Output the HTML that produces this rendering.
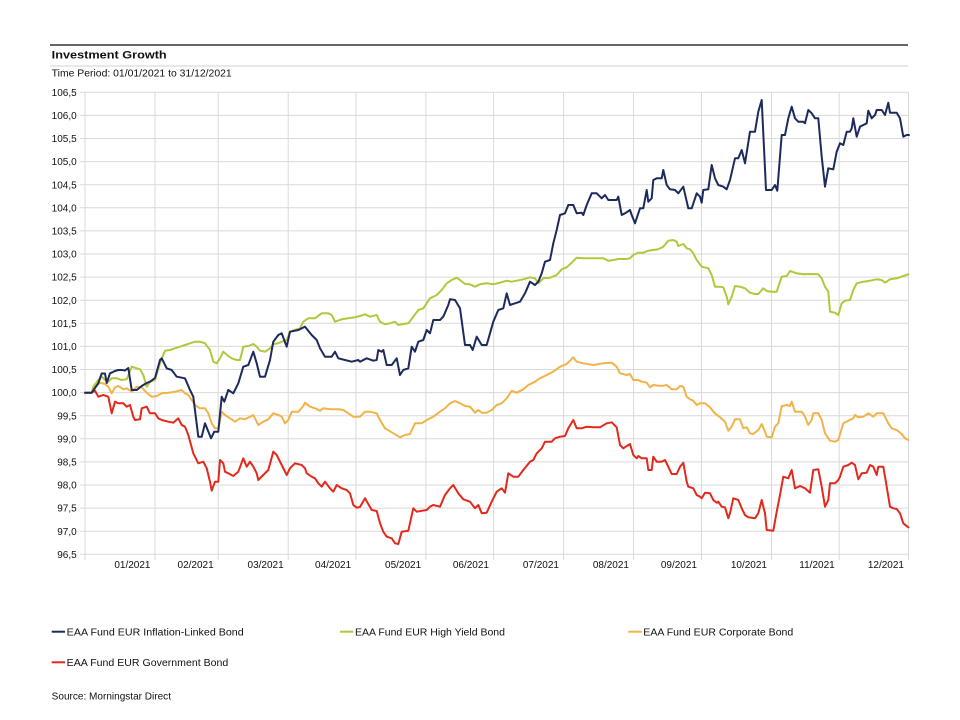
<!DOCTYPE html>
<html>
<head>
<meta charset="utf-8">
<style>
html,body{margin:0;padding:0;background:#fff;}
body{width:960px;height:720px;overflow:hidden;}
svg{display:block;}
text{font-family:"Liberation Sans","DejaVu Sans",sans-serif;fill:#111;}
</style>
</head>
<body>
<svg width="960" height="720" viewBox="0 0 960 720" xmlns="http://www.w3.org/2000/svg">
<rect x="0" y="0" width="960" height="720" fill="#fff"/>
<!-- header -->
<line x1="50" y1="45" x2="908" y2="45" stroke="#333" stroke-width="1.5"/>
<text x="51.7" y="58.3" font-size="11" font-weight="bold" textLength="115" lengthAdjust="spacingAndGlyphs">Investment Growth</text>
<line x1="50" y1="66" x2="908" y2="66" stroke="#d0d0d0" stroke-width="1"/>
<text x="51.7" y="76.5" font-size="10" textLength="180" lengthAdjust="spacingAndGlyphs">Time Period: 01/01/2021 to 31/12/2021</text>

<!-- horizontal grid -->
<g stroke="#dadada" stroke-width="1">
<line x1="80" y1="92.3" x2="908" y2="92.3"/>
<line x1="80" y1="115.4" x2="908" y2="115.4"/>
<line x1="80" y1="138.5" x2="908" y2="138.5"/>
<line x1="80" y1="161.6" x2="908" y2="161.6"/>
<line x1="80" y1="184.7" x2="908" y2="184.7"/>
<line x1="80" y1="207.8" x2="908" y2="207.8"/>
<line x1="80" y1="230.9" x2="908" y2="230.9"/>
<line x1="80" y1="254.0" x2="908" y2="254.0"/>
<line x1="80" y1="277.1" x2="908" y2="277.1"/>
<line x1="80" y1="300.2" x2="908" y2="300.2"/>
<line x1="80" y1="323.3" x2="908" y2="323.3"/>
<line x1="80" y1="346.4" x2="908" y2="346.4"/>
<line x1="80" y1="369.5" x2="908" y2="369.5"/>
<line x1="80" y1="392.6" x2="908" y2="392.6"/>
<line x1="80" y1="415.7" x2="908" y2="415.7"/>
<line x1="80" y1="438.8" x2="908" y2="438.8"/>
<line x1="80" y1="461.9" x2="908" y2="461.9"/>
<line x1="80" y1="485.0" x2="908" y2="485.0"/>
<line x1="80" y1="508.1" x2="908" y2="508.1"/>
<line x1="80" y1="531.2" x2="908" y2="531.2"/>
<line x1="80" y1="554.3" x2="908" y2="554.3"/>
</g>
<!-- vertical grid -->
<g stroke="#dadada" stroke-width="1">
<line x1="85" y1="92" x2="85" y2="560"/>
<line x1="155" y1="92" x2="155" y2="560"/>
<line x1="218.2" y1="92" x2="218.2" y2="560"/>
<line x1="288.2" y1="92" x2="288.2" y2="560"/>
<line x1="355.9" y1="92" x2="355.9" y2="560"/>
<line x1="425.9" y1="92" x2="425.9" y2="560"/>
<line x1="493.6" y1="92" x2="493.6" y2="560"/>
<line x1="563.6" y1="92" x2="563.6" y2="560"/>
<line x1="633.6" y1="92" x2="633.6" y2="560"/>
<line x1="701.5" y1="92" x2="701.5" y2="560"/>
<line x1="771.5" y1="92" x2="771.5" y2="560"/>
<line x1="839.2" y1="92" x2="839.2" y2="560"/>
<line x1="908.5" y1="92" x2="908.5" y2="560"/>
</g>

<!-- y labels -->
<g font-size="10" text-anchor="end">
<text x="76.7" y="95.9">106,5</text>
<text x="76.7" y="119.0">106,0</text>
<text x="76.7" y="142.1">105,5</text>
<text x="76.7" y="165.2">105,0</text>
<text x="76.7" y="188.3">104,5</text>
<text x="76.7" y="211.4">104,0</text>
<text x="76.7" y="234.5">103,5</text>
<text x="76.7" y="257.6">103,0</text>
<text x="76.7" y="280.7">102,5</text>
<text x="76.7" y="303.8">102,0</text>
<text x="76.7" y="326.9">101,5</text>
<text x="76.7" y="350.0">101,0</text>
<text x="76.7" y="373.1">100,5</text>
<text x="76.7" y="396.2">100,0</text>
<text x="76.7" y="419.3">99,5</text>
<text x="76.7" y="442.4">99,0</text>
<text x="76.7" y="465.5">98,5</text>
<text x="76.7" y="488.6">98,0</text>
<text x="76.7" y="511.7">97,5</text>
<text x="76.7" y="534.8">97,0</text>
<text x="76.7" y="557.9">96,5</text>
</g>
<!-- x labels -->
<g font-size="10" text-anchor="end">
<text x="150.5" y="568">01/2021</text>
<text x="213.7" y="568">02/2021</text>
<text x="283.7" y="568">03/2021</text>
<text x="351.2" y="568">04/2021</text>
<text x="421.2" y="568">05/2021</text>
<text x="489" y="568">06/2021</text>
<text x="559" y="568">07/2021</text>
<text x="629" y="568">08/2021</text>
<text x="697" y="568">09/2021</text>
<text x="767" y="568">10/2021</text>
<text x="834.7" y="568">11/2021</text>
<text x="904" y="568">12/2021</text>
</g>

<!-- series -->
<g fill="none" stroke-width="2" stroke-linejoin="round" stroke-linecap="round">
<polyline stroke="#e2291c" points="85,392.7 91.7,392.7 95,390.7 98.3,396.7 103.3,395 108.3,396.7 111.7,413.3 115,401.7 118.3,403.3 123.3,403.3 126.7,406.7 130,405 133.3,416.7 135,420 140,419.3 141.7,408.3 146.7,406.7 150,413.3 155,413.3 158.3,418.3 161.7,420 168.3,421.7 173.3,422.7 178.3,418.3 181.7,425 185,426.7 188.3,435 193.3,453.3 198.3,463.3 203.3,461.7 206.7,468.3 210,481.7 211.7,490.7 215,481.7 218.3,481.7 220,460 223.3,463.3 225,471.7 228.3,473.3 233.3,476 238.3,471.7 243.3,458.3 246.7,466.7 250,461.7 253.3,466.7 256.7,473.3 258.3,480 263.3,475 268.3,470 273.3,451.7 276.7,455 281.7,465 286.7,475 290,468.3 295,463.3 301.7,465 305,468.3 306.7,473.3 311.7,476.7 315,478.3 318.3,483.3 321.7,486.7 325,481.7 330,488.3 333.3,491.7 336.7,485 341.7,488.3 346.7,490 350,493.3 353.3,505 356.7,507.7 360,507 365,498.3 371.7,510 376.7,511 380,523.3 383.3,531.7 386.7,536.7 391.7,538.3 395,543.3 398.3,544 401.7,531.7 408.3,530.7 413.3,508.3 416.7,511.7 426.7,510 430,506.7 433.3,505 440,506.7 445,495 450,488.3 453.3,485 458.3,493.3 463.3,499.3 470,501.7 475,508.3 478.3,505 481.7,513.3 486.7,512.7 491.7,501.7 496.7,491.7 501.7,488.3 505,492.7 508.3,473.3 513.3,476.7 518.3,476.7 523.3,470 530,461.7 533.3,460 536.7,453.3 541.7,448.3 545,441.7 551.7,441.7 555,438.3 560,436.7 565,436 568.3,428.3 573.3,420 576.7,428.3 581.7,428.3 586.7,426.7 593.3,427.3 600,427.3 606.7,423.3 611.7,422.3 616.7,427.3 620,445 623.3,448.3 630,444 633.3,455 636.7,458.3 638.3,456 641.7,458.3 646.7,458.3 648.3,470 651.7,470 653.3,456.7 656.7,461.7 661.7,461.7 665,460 668.3,466.7 671.7,474 676.7,474 680,466.7 683.3,462.7 686.7,481.7 688.3,486.7 693.3,488.3 696.7,495 700,496.7 701.7,498.3 705,492.7 710,493.3 713.3,500 716.7,502.7 718.3,501.7 721.7,506.7 725,507.3 728.3,518.3 730,513.3 733.3,498.3 738.3,500 741.7,508.3 745,515 748.3,517.3 755,518.3 758.3,513.3 761.7,500 765,513.3 766.7,530 773.3,530.7 776.7,511.7 780,495 783.3,476.7 788.3,478.3 791.7,470 795,488.3 800,486 805,488.3 810,492.7 813.3,470 818.3,469.3 821.7,486.7 825,506.7 828.3,500 830,483.3 835,483.3 838.3,480 840,476.7 843.3,466.7 848.3,465 851.7,462.7 855,465 858.3,479.3 861.7,473.3 866.7,472.7 870,465 873.3,466.7 876.7,475 878.3,466.7 883.3,466.7 886.7,486.7 890,506.7 893.3,508.3 896.7,509 900,513.3 903.3,523.3 908.3,527.3"/>
<polyline stroke="#f1b349" points="85,392.7 91.7,392.7 95,386.7 100,382.7 105,384 108.3,386.7 111.7,393.3 115,387.3 118.3,386 123.3,389.3 126.7,388.3 131.7,391.7 136.7,386.7 141.7,387.3 146.7,392.7 151.7,396.7 156.7,396 161.7,393.3 168.3,392.7 175,391.7 181.7,390 185,393.3 188.3,395 191.7,400 195,405 200,408.3 205,408.3 208.3,413.3 211.7,423.3 215,428.3 218.3,428.3 221.7,411.7 225,415 230,418.3 235,421.7 240,418.3 245,419.3 250,416.7 253.3,415 258.3,425 263.3,421.7 268.3,419.3 273.3,413.3 278.3,415 281.7,416.7 285,423.3 288.3,420 291.7,411.7 298.3,411.7 303.3,406 305,402.7 310,406.7 315,408.3 320,410.7 323.3,408.3 330,409.3 338.3,409.3 343.3,410 348.3,413.3 353.3,416.7 358.3,416.7 360,416.7 365,411.7 370,411.7 376.7,413.3 380,420 385,428.3 393.3,433.3 400,437.3 405,435 410,434 415,423.3 421.7,423.3 426.7,420 433.3,416.7 440,411.7 445,408.3 450,403.3 455,401 460,403.3 465,406 470,406.7 475,412.7 478.3,410 481.7,412.7 486.7,412.7 491.7,410 496.7,405 501.7,403.3 506.7,398.3 511.7,391 516.7,392.7 523.3,389.3 528.3,385 535,381.7 540,378.3 546.7,375 553.3,371.7 560,366.7 566.7,364 573.3,357.3 576.7,361.7 583.3,363.3 593.3,365 603.3,363.3 611.7,362.7 616.7,366.7 620,373.3 626.7,375 630,374 633.3,380 638.3,380 641.7,381.7 646.7,382.7 650,387.3 653.3,385 658.3,385.7 663.3,385.7 666.7,385 671.7,389.3 676.7,389.3 680,386 683.3,386.7 686.7,396.7 690,399.3 693.3,400.7 696.7,405 700,403.3 705,403.3 710,407.3 715,413.3 720,417.3 725,421.7 728.3,430.7 731.7,426.7 735,419.3 740,419.3 743.3,428.3 746.7,427.3 750,433.3 753.3,434 758.3,430 761.7,424 765,431.7 766.7,436.7 771.7,437.3 775,426.7 778.3,423.3 781.7,406 786.7,405 790,406 791.7,401.7 795,411.7 801.7,411.7 805,416.7 808.3,425 811.7,420 813.3,413.3 818.3,413.3 821.7,420 825,433.3 830,440.7 835,441.7 838.3,440 843.3,423.3 848.3,420.7 853.3,418.3 855,415 858.3,417.3 863.3,416.7 868.3,413.3 873.3,416.7 876.7,413.3 883.3,413.3 888.3,423.3 891.7,428.3 896.7,430 901.7,434 905,438.3 908.3,440"/>
<polyline stroke="#b2c73d" points="85,392.7 91.7,392.7 93.3,386.7 98.3,380 101.7,376.7 105,380 108.3,381.7 111.7,378.3 116.7,378.3 121.7,380 126.7,379.3 131.7,366.7 136.7,368.3 140,369.3 143.3,375 146.7,386.7 150,381.7 155,380 160,363.3 165,350.7 170,350 175,348.3 180,346.7 185,345 190,343.3 195,341.7 200,341.7 205,343.3 210,350 213.3,361.7 216.7,363.3 220,358.3 223.3,351.7 228.3,356 231.7,358.3 236.7,360 240,360 243.3,346.7 248.3,346 253.3,344 256.7,346.7 260,350.7 265,351.7 270,348.3 273.3,344 278.3,343.3 281.7,341.7 286.7,340 290,331.7 296.7,329.3 300,328.3 303.3,321.7 308.3,318.3 315,318.3 321.7,313.3 328.3,313.3 331.7,315 335,321.7 341.7,319.3 348.3,318.3 355,317.3 360,316 365,314.3 370,316.7 376.7,315 380,321.7 385,324.3 390,323.3 395,321.7 398.3,325 401.7,324.3 408.3,323.3 413.3,316.7 418.3,310 423.3,308.3 430,298.3 436.7,295 441.7,290 446.7,283.3 451.7,280 456.7,277.7 460,280 465,284 470,284.3 475,286.7 480,284.3 486.7,283.3 493.3,284.3 500,282.7 506.7,280.7 511.7,281.7 516.7,280.7 523.3,279.3 530,277.3 535,278.3 538.3,283.3 543.3,278.3 550,277.7 556.7,275 561.7,269.3 566.7,267.3 571.7,262.7 576.7,257.7 583.3,258.3 593.3,258.3 603.3,258.3 608.3,260.7 613.3,260 618.3,259 626.7,259 630,258.3 633.3,255 638.3,252.7 643.3,252.7 648.3,250.7 653.3,250 658.3,249.3 663.3,246.7 668.3,240.7 673.3,240 676.7,241.7 678.3,246 683.3,244 686.7,248.3 690,249.3 693.3,253.3 696.7,260 701.7,266.7 708.3,268.3 711.7,275 715,286.7 720,286.7 723.3,287.3 726.7,296.7 728.3,304.3 731.7,296.7 735,286 740,286.7 745,288.3 750,292.7 755,294 758.3,294 763.3,288.3 766.7,291 771.7,291.7 776.7,291.7 781.7,276.7 786.7,276 790,271 796.7,273.3 803.3,274.3 810,274 818.3,274.3 821.7,278.3 825,286.7 828.3,291.7 830,311.7 835,312.7 838.3,315 841.7,303.3 845,300.7 850,300 853.3,290 856.7,283.3 863.3,281.7 870,280.7 876.7,279.3 881.7,280 885,282.7 890,279.3 896.7,278.3 903.3,276 908.3,274.3"/>
<polyline stroke="#1c2b5c" points="85,392.7 91.7,392.7 98.3,383.3 101.7,373.5 105,373.5 106.7,383 110,373.3 115,371 118.3,370 121.7,370 125,370.5 128.3,368 131.7,390 136.7,390 141.7,386 146.7,383 150,381.7 155,378 160,360 161.7,358.3 166.7,368.3 171.7,370 176.7,376.7 185,378.3 190,390 193.3,396.7 198.3,436.7 201.7,436.7 205,423.3 211,438.3 214.3,431.7 218.3,431.7 221.7,396.7 224.3,401.7 228.3,390 233.3,393.3 238.3,383.3 243.3,366.7 248.3,365 253.3,351.7 256.7,363.3 260,376.7 265,376.7 270,360 273.3,341.7 278.3,335 281.7,333.3 286.7,346.7 290,331.7 298.3,330 305,326.7 311.7,335 316.7,340 320,348.3 325,356.7 331.7,356.7 335,351.7 338.3,358.3 345,360 351.7,361.7 358.3,360 360,361.7 366.7,358.3 373.3,360.7 376.7,360 378.3,350 381.7,351.7 383.3,350 386.7,365 391.7,365 396.7,358.3 400,375 403.3,370 408.3,368.3 411.7,346.7 415,351.7 418.3,341.7 423.3,340 426.7,330 430,333.3 433.3,320 440,320 443.3,316.7 448.3,305 450,299.3 455,300 460,308.3 465,345 470,345 472.7,350 476.7,336.7 481.7,345 486.7,345 493.3,321.7 498.3,310 503.3,308.3 506.7,293.3 510,305 515,303.3 520,301.7 525,293.3 530,281.7 535,285 538.3,281.7 541.7,273.3 545,261.7 550,260 553.3,243.3 556.7,230 560,215 565,213.3 568.3,205 573.3,205 576.7,213.3 581.7,212.7 583.3,215 586.7,205 591.7,193.3 596.7,193.3 601.7,198.3 605,195 608.3,200 616.7,200 618.3,196.7 621.7,215 625,213.3 630,210 631.7,215 635,223.3 638.3,213.3 640,208.3 643.3,208.3 646.7,190 648.3,201.7 651.7,198.3 653.3,180 656.7,178.3 661.7,178.3 663.3,170 666.7,185 670,189.3 675,190 678.3,193.3 683.3,186.7 688.3,208.3 691.7,208.3 696.7,193.3 700,196.7 701.7,202.7 703.3,190 708.3,189.3 711.7,165 715,178.3 718.3,185 723.3,186.7 726.7,189.3 730,180 735,158.3 738.3,158.3 741.7,150 745,163.3 750,131.7 755,131.7 758.3,111.7 761.7,100 766,190 771.7,190 775,185 777.3,190.7 781.7,135 785,135 788.3,118.3 791.7,106.7 795,118.3 798.3,121.7 803.3,121.7 805,123.3 808.3,110 811.7,113.3 815,118.3 818.3,118.3 821.7,156.7 825,186.7 828.3,168.3 833.3,169.3 836.7,151.7 840,143.3 843.3,145 846.7,131.7 850,131.7 851.7,128.3 853.3,118.3 856.7,136.7 860,126.7 863.3,125 866.7,123.3 868.3,110.7 871.7,118.3 875,115 876.7,110 881.7,110 885,115 888.3,102.7 890,112.7 896.7,112.7 900,118.3 903.3,136.7 906.7,135 909,135"/>
</g>

<!-- legend -->
<g stroke-width="2">
<line x1="51.7" y1="631.7" x2="65" y2="631.7" stroke="#1c2b5c"/>
<line x1="340" y1="631.7" x2="353.3" y2="631.7" stroke="#b2c73d"/>
<line x1="628.3" y1="631.7" x2="641.7" y2="631.7" stroke="#f1b349"/>
<line x1="51.7" y1="662.3" x2="65" y2="662.3" stroke="#e2291c"/>
</g>
<g font-size="10">
<text x="66.7" y="635.5" textLength="177" lengthAdjust="spacingAndGlyphs">EAA Fund EUR Inflation-Linked Bond</text>
<text x="355" y="635.5" textLength="150" lengthAdjust="spacingAndGlyphs">EAA Fund EUR High Yield Bond</text>
<text x="643.3" y="635.5" textLength="150" lengthAdjust="spacingAndGlyphs">EAA Fund EUR Corporate Bond</text>
<text x="66.7" y="666" textLength="161.6" lengthAdjust="spacingAndGlyphs">EAA Fund EUR Government Bond</text>
<text x="51.7" y="699.3" textLength="119.3" lengthAdjust="spacingAndGlyphs">Source: Morningstar Direct</text>
</g>
</svg>
</body>
</html>
